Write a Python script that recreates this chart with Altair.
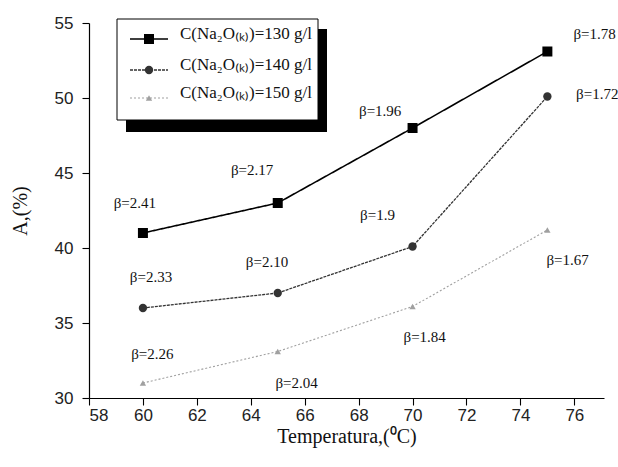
import altair as alt
import pandas as pd

# ---------------- data ----------------
temps = [60, 65, 70, 75]
a130 = [41.0, 43.0, 48.0, 53.1]
a140 = [36.0, 37.0, 40.1, 50.1]
a150 = [31.0, 33.1, 36.1, 41.2]
series_names = ["C(Na₂O₍ₖ₎)=130 g/l", "C(Na₂O₍ₖ₎)=140 g/l", "C(Na₂O₍ₖ₎)=150 g/l"]

beta130 = ["β=2.41", "β=2.17", "β=1.96", "β=1.78"]
beta140 = ["β=2.33", "β=2.10", "β=1.9", "β=1.72"]
beta150 = ["β=2.26", "β=2.04", "β=1.84", "β=1.67"]
# annotation anchors in data units (temperature, A%)
beta130_t = [59.7, 64.05, 68.8, 76.75]
beta130_a = [43.0, 45.2, 49.15, 54.3]
beta140_t = [60.3, 64.6, 68.7, 76.85]
beta140_a = [38.05, 39.1, 42.2, 50.25]
beta150_t = [60.35, 65.7, 70.45, 75.75]
beta150_a = [32.95, 31.0, 34.1, 39.2]

x_ticks = list(range(58, 78))
y_ticks = [30 + 2.5 * i for i in range(11)]

# ---------------- tables ----------------
rows = []
for name, vals in zip(series_names, [a130, a140, a150]):
    for t, v in zip(temps, vals):
        rows.append({"series": name, "T": t, "A": v})
df = pd.DataFrame(rows)

lab_rows = []
for labs, ts, as_ in [(beta130, beta130_t, beta130_a), (beta140, beta140_t, beta140_a),
                      (beta150, beta150_t, beta150_a)]:
    for l, t, a in zip(labs, ts, as_):
        lab_rows.append({"label": l, "T": t, "A": a})
df_lab = pd.DataFrame(lab_rows)

colors = ["#000000", "#333333", "#a0a0a0"]
dashes = [[1, 0], [3, 1], [2, 2]]
widths = [1.6, 1.3, 1.1]
shapes = ["square", "circle", "triangle-up"]
sizes = [100, 70, 40]

xscale = alt.Scale(domain=[58, 77.1], nice=False, zero=False)
yscale = alt.Scale(domain=[30, 55], nice=False, zero=False)

xaxis = alt.Axis(values=x_ticks, title="Temperatura,(⁰C)",
                 labelExpr="datum.value % 2 === 0 ? datum.label : ''",
                 tickSize={"condition": {"test": "datum.value % 2 === 0", "value": 7}, "value": 4},
                 labelPadding=2, titlePadding=3)
yaxis = alt.Axis(values=y_ticks, title="A,(%)",
                 labelExpr="datum.value % 5 === 0 ? datum.label : ''",
                 tickSize={"condition": {"test": "datum.value % 5 === 0", "value": 7}, "value": 4},
                 labelPadding=9, titlePadding=24)

base = alt.Chart(df)
lines = []
points = []
for i, name in enumerate(series_names):
    sub = base.transform_filter(alt.datum.series == name)
    lines.append(sub.mark_line(color=colors[i], strokeDash=dashes[i], strokeWidth=widths[i]).encode(
        x=alt.X("T:Q", scale=xscale, axis=xaxis),
        y=alt.Y("A:Q", scale=yscale, axis=yaxis),
    ))
    points.append(sub.mark_point(shape=shapes[i], filled=True, color=colors[i], size=sizes[i], opacity=1).encode(
        x=alt.X("T:Q", scale=xscale),
        y=alt.Y("A:Q", scale=yscale),
    ))

labels = alt.Chart(df_lab).mark_text(font="Liberation Serif", fontSize=15, color="#111",
                                     align="center", baseline="middle").encode(
    x=alt.X("T:Q", scale=xscale),
    y=alt.Y("A:Q", scale=yscale),
    text="label:N",
)

# ---------------- legend (drawn box with shadow) ----------------
one = pd.DataFrame({"k": [0]})
shadow = alt.Chart(one).mark_rect(color="black").encode(
    x=alt.value(37), x2=alt.value(238), y=alt.value(6), y2=alt.value(109))
box = alt.Chart(one).mark_rect(fill="white", stroke="black", strokeWidth=1).encode(
    x=alt.value(28), x2=alt.value(229), y=alt.value(-4), y2=alt.value(97))

leg = [shadow, box]
row_sym_y = [16, 47, 75]
row_txt_y = [11, 42, 70]
for i, name in enumerate(series_names):
    leg.append(alt.Chart(one).mark_rule(color=colors[i], strokeDash=dashes[i], strokeWidth=widths[i]).encode(
        x=alt.value(41), x2=alt.value(79), y=alt.value(row_sym_y[i])))
    leg.append(alt.Chart(one).mark_point(shape=shapes[i], filled=True, color=colors[i], size=sizes[i], opacity=1).encode(
        x=alt.value(60), y=alt.value(row_sym_y[i])))
    leg.append(alt.Chart(pd.DataFrame({"name": [name]})).mark_text(
        font="Liberation Serif", fontSize=17, color="#111", align="left", baseline="middle").encode(
        x=alt.value(91), y=alt.value(row_txt_y[i]), text="name:N"))

chart = alt.layer(*lines, *points, labels, *leg).properties(
    width=515, height=375,
    padding={"left": 89, "top": 23, "right": 14, "bottom": 69},
    autosize=alt.AutoSizeParams(type="none"),
).configure_view(stroke=None).configure_axis(
    grid=False, domainColor="black", tickColor="black", domainWidth=1.2, tickWidth=1.1,
    labelFont="Liberation Sans", labelFontSize=17, labelColor="#222",
    titleFont="Liberation Serif", titleFontSize=20, titleFontWeight="normal", titleColor="#111",
)

chart.save("out.html", embed_options={"renderer": "svg", "actions": False})
